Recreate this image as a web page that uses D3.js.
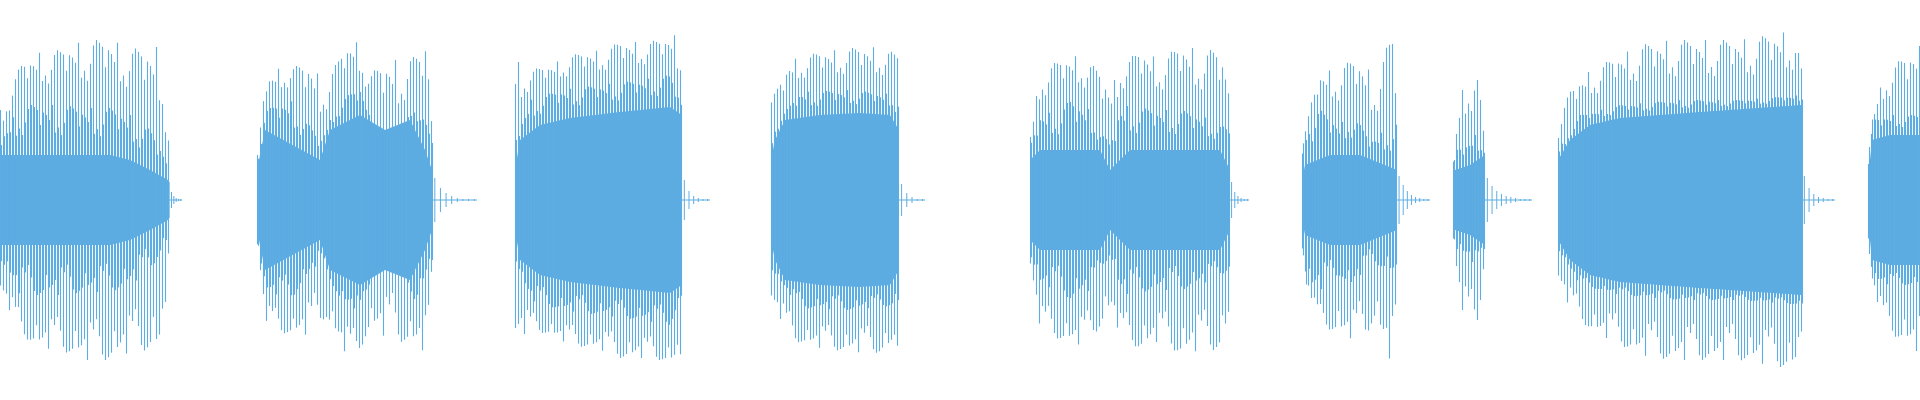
<!DOCTYPE html>
<html>
<head>
<meta charset="utf-8">
<script src="https://cdn.jsdelivr.net/npm/d3@7"></script>
<style>
  html, body { margin: 0; padding: 0; background: #fff; }
</style>
</head>
<body>
<script>
// clip boundaries (ms): body start, body end, tail end
var clips = [
  [0, 168, 182], [257, 432, 477], [515, 682, 710], [771, 899, 925],
  [1030, 1230, 1249], [1302, 1397, 1430], [1453, 1485, 1532], [1558, 1802, 1835], [1868, 1920, 1920]
];

// peak envelope of the spikes, [ms, amplitude]
var peaks = [
  [[0, 90], [20, 135], [40, 148], [60, 150], [85, 160], [110, 160], [130, 152], [150, 150], [160, 155], [168, 70]],
  [[257, 45], [265, 120], [280, 133], [310, 135], [325, 117], [345, 153], [355, 160], [370, 127], [385, 137], [405, 143], [420, 143], [426, 165], [432, 70]],
  [[515, 140], [530, 130], [550, 135], [570, 145], [600, 150], [620, 158], [640, 158], [660, 160], [675, 165], [682, 150]],
  [[771, 100], [790, 140], [820, 148], [850, 152], [880, 153], [899, 145]],
  [[1030, 65], [1040, 130], [1060, 140], [1080, 145], [1100, 128], [1110, 110], [1120, 135], [1140, 150], [1160, 140], [1180, 155], [1200, 150], [1220, 150], [1230, 115]],
  [[1302, 50], [1310, 95], [1320, 125], [1340, 135], [1355, 140], [1365, 135], [1375, 120], [1385, 150], [1392, 165], [1397, 100]],
  [[1453, 40], [1458, 90], [1465, 125], [1475, 135], [1478, 120], [1485, 50]],
  [[1558, 80], [1570, 110], [1590, 130], [1610, 140], [1640, 155], [1670, 160], [1700, 160], [1740, 160], [1770, 165], [1795, 170], [1802, 125]],
  [[1868, 40], [1875, 95], [1885, 130], [1900, 140], [1915, 150], [1920, 155]]
];

// secondary band (jagged edge of the dense part)
var mids = [
  [[0, 60], [20, 95], [60, 95], [85, 92], [110, 92], [130, 85], [150, 70], [168, 40]],
  [[257, 40], [265, 90], [290, 100], [320, 60], [340, 100], [360, 112], [375, 67], [400, 60], [415, 103], [432, 60]],
  [[515, 60], [530, 100], [560, 110], [600, 115], [640, 120], [670, 125], [682, 95]],
  [[771, 70], [800, 108], [850, 110], [899, 105]],
  [[1030, 55], [1040, 85], [1060, 90], [1070, 100], [1090, 90], [1100, 70], [1110, 55], [1120, 95], [1140, 92], [1160, 90], [1180, 90], [1200, 85], [1230, 70]],
  [[1302, 40], [1305, 90], [1320, 90], [1340, 75], [1350, 90], [1370, 60], [1385, 70], [1397, 80]],
  [[1453, 30], [1455, 50], [1465, 55], [1475, 65], [1485, 50]],
  [[1558, 50], [1580, 85], [1620, 95], [1680, 100], [1740, 100], [1802, 105]],
  [[1868, 30], [1870, 80], [1890, 85], [1920, 85]]
];

// solid core
var cores = [
  [[0, 45], [110, 45], [130, 40], [150, 30], [168, 20]],
  [[257, 30], [265, 70], [320, 40], [330, 70], [360, 85], [385, 70], [410, 80], [425, 50], [432, 30]],
  [[515, 30], [520, 60], [540, 75], [570, 82], [620, 88], [670, 93], [682, 85]],
  [[771, 40], [775, 60], [785, 80], [820, 85], [860, 87], [890, 85], [899, 70]],
  [[1030, 40], [1040, 50], [1100, 50], [1110, 30], [1130, 50], [1220, 50], [1230, 30]],
  [[1302, 20], [1305, 35], [1330, 45], [1360, 45], [1397, 30]],
  [[1453, 20], [1455, 30], [1470, 35], [1485, 45]],
  [[1558, 40], [1570, 60], [1590, 75], [1620, 82], [1700, 88], [1802, 95]],
  [[1868, 20], [1872, 60], [1890, 65], [1920, 65]]
];

// decay after each clip, amplitude per step
var tails = [
  [18, 8, 4, 2, 1, 1],
  [22, 12, 7, 4, 2, 1, 1, 1],
  [20, 9, 4, 2, 1, 1],
  [16, 7, 3, 1, 1],
  [18, 8, 4, 2, 1, 1],
  [24, 15, 9, 5, 3, 2, 1, 1],
  [22, 14, 9, 6, 4, 3, 2, 1, 1, 1],
  [24, 12, 6, 3, 2, 1, 1],
  []
];

// relative spike height, repeated along each clip
var jitter = [1, 0.6, 0.92, 0.45, 0.85, 1, 0.55, 0.8, 0.96, 0.4, 0.7, 0.9, 0.65];

var width = 1920, height = 400;
var color = "#5dade2";

var svg = d3.select("body").append("svg")
  .attr("width", width)
  .attr("height", height);

var x = d3.scaleLinear().domain([0, 1920]).range([0, width]);
var y = d3.scaleLinear().domain([-200, 200]).range([height, 0]);

function envelope(pts) {
  return d3.scaleLinear().domain(pts.map(d => d[0])).range(pts.map(d => d[1])).clamp(true);
}

var g = svg.append("g");

clips.forEach(function (c, i) {
  var peak = envelope(peaks[i]), mid = envelope(mids[i]), core = envelope(cores[i]);

  var xs = d3.range(c[0], c[1] + 0.5, 1);
  g.append("path")
    .datum(xs)
    .attr("fill", color)
    .attr("d", d3.area()
      .x(d => x(d))
      .y0(d => y(-core(d)))
      .y1(d => y(core(d))));

  var strokes = [];
  xs.forEach(function (t, k) {
    var j = jitter[(k + i * 5) % jitter.length];
    if (k % 3 === 0) {
      var p = peak(t), m = mid(t);
      strokes.push([t, m + (p - m) * j, m + (p - m) * jitter[(k + 4) % jitter.length]]);
    } else if (k % 3 === 1) {
      var m2 = mid(t), co = core(t);
      strokes.push([t, co + (m2 - co) * j, co + (m2 - co) * jitter[(k + 7) % jitter.length]]);
    }
  });
  g.selectAll(null)
    .data(strokes)
    .enter().append("line")
    .attr("x1", d => x(d[0]) + 0.5)
    .attr("x2", d => x(d[0]) + 0.5)
    .attr("y1", d => y(d[1]))
    .attr("y2", d => y(-d[2]))
    .attr("stroke", color)
    .attr("stroke-width", 1.1);

  var tl = tails[i];
  if (tl.length) {
    var step = (c[2] - c[1]) / tl.length;
    g.selectAll(null)
      .data(tl)
      .enter().append("line")
      .attr("x1", (d, k) => x(c[1] + (k + 0.5) * step))
      .attr("x2", (d, k) => x(c[1] + (k + 0.5) * step))
      .attr("y1", d => y(d))
      .attr("y2", d => y(-d))
      .attr("stroke", color)
      .attr("stroke-width", 1);
    g.append("line")
      .attr("x1", x(c[1])).attr("x2", x(c[2]))
      .attr("y1", y(0)).attr("y2", y(0))
      .attr("stroke", color)
      .attr("stroke-width", 1);
  }
});
</script>
</body>
</html>
